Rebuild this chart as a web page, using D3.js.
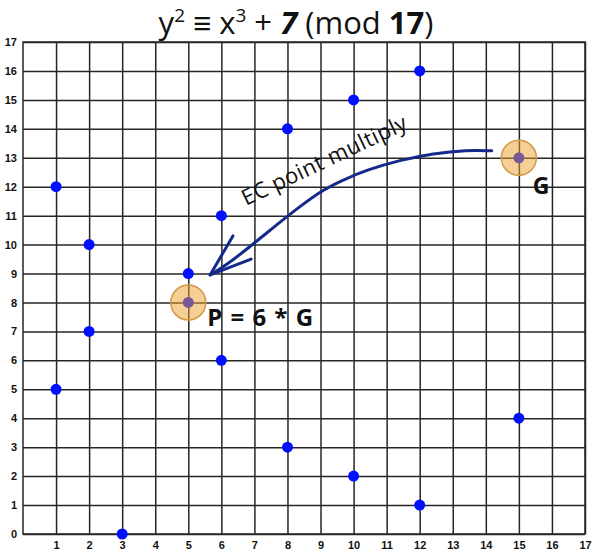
<!DOCTYPE html>
<html><head><meta charset="utf-8">
<script src="https://cdn.jsdelivr.net/npm/d3@7"></script>
<style>body{margin:0;background:#fff}svg{display:block}</style>
</head><body>
<svg id="c" width="594" height="554"></svg>
<script>
// Data
const xTicks = d3.range(1, 18);
const yTicks = d3.range(0, 18);
const pointsX = [1, 1, 2, 2, 3, 5, 5, 6, 6, 8, 8, 10, 10, 12, 12, 15, 15];
const pointsY = [5, 12, 7, 10, 0, 8, 9, 6, 11, 3, 14, 2, 15, 1, 16, 4, 13];
const highlightX = [15, 5];
const highlightY = [13, 8];
const labelText = ["G", "P = 6 * G"];
const labelX = [15.42, 5.57];
const labelY = [11.78, 7.22];
const arrowX = [14.18, 13.42, 12.41, 11.40, 10.40, 9.69, 9.08, 8.38, 7.67, 6.87, 6.16, 5.66];
const arrowY = [13.24, 13.27, 13.15, 12.92, 12.58, 12.24, 11.90, 11.32, 10.68, 9.93, 9.30, 8.95];
const headX = [6.35, 5.66, 6.9];
const headY = [10.3, 8.95, 9.5];
const arrowLabel = "EC point multiply";

const svg = d3.select("#c");
const x = d3.scaleLinear().domain([0, 17]).range([23, 585]);
const y = d3.scaleLinear().domain([0, 17]).range([534, 42]);

// grid via axes
const gx = svg.append("g").attr("transform", `translate(0,${y(0)})`)
  .call(d3.axisBottom(x).tickValues(xTicks).tickSize(-(y(0) - y(17))).tickPadding(7).tickFormat(d3.format("d")));
const gy = svg.append("g").attr("transform", `translate(${x(0)},0)`)
  .call(d3.axisLeft(y).tickValues(yTicks).tickSize(-(x(17) - x(0))).tickPadding(6).tickFormat(d3.format("d")));
[gx, gy].forEach(g => {
  g.select(".domain").remove();
  g.selectAll(".tick line").attr("stroke", "#262626").attr("stroke-width", 1.5);
  g.selectAll(".tick text").attr("fill", "#111").style("font-family", "'Liberation Sans', Arial, sans-serif")
    .style("font-size", "11px").style("font-weight", "bold");
});
// frame
svg.append("rect").attr("x", x(0)).attr("y", y(17)).attr("width", x(17) - x(0)).attr("height", y(0) - y(17))
  .attr("fill", "none").attr("stroke", "#262626").attr("stroke-width", 1.5);

// points
svg.append("g").selectAll("circle").data(pointsX.map((v, i) => [v, pointsY[i]])).join("circle")
  .attr("cx", d => x(d[0])).attr("cy", d => y(d[1])).attr("r", 5.5).attr("fill", "#0010ff");

// highlight circles (semi transparent over point)
svg.append("g").selectAll("circle").data(highlightX.map((v, i) => [v, highlightY[i]])).join("circle")
  .attr("cx", d => x(d[0])).attr("cy", d => y(d[1])).attr("r", 17.5)
  .attr("fill", "rgba(238,160,45,0.5)").attr("stroke", "#d39a48").attr("stroke-width", 1.5);

// labels
svg.append("g").selectAll("text").data(labelText).join("text")
  .attr("x", (d, i) => x(labelX[i])).attr("y", (d, i) => y(labelY[i]) + 1)
  .attr("fill", "#111").style("font-family", "'Open Sans', sans-serif")
  .style("font-size", (d, i) => i === 0 ? "23px" : "24px").style("font-weight", "bold")
  .style("word-spacing", "2px").text(d => d);

// arrow
const line = d3.line().x(d => x(d[0])).y(d => y(d[1])).curve(d3.curveBasis);
svg.append("path").attr("d", line(arrowX.map((v, i) => [v, arrowY[i]])))
  .attr("fill", "none").attr("stroke", "#132a8a").attr("stroke-width", 3).attr("stroke-linecap", "round");
svg.append("path").attr("d", d3.line().x(d => x(d[0])).y(d => y(d[1]))(headX.map((v, i) => [v, headY[i]])))
  .attr("fill", "none").attr("stroke", "#132a8a").attr("stroke-width", 3).attr("stroke-linecap", "round").attr("stroke-linejoin", "round");

svg.append("text").attr("transform", `translate(246,206) rotate(-25.5)`)
  .attr("fill", "#111").style("font-family", "'Open Sans', sans-serif").style("font-size", "22px")
  .style("letter-spacing", "0.4px").text(arrowLabel);

// title
const t = svg.append("text").attr("x", 296).attr("y", 34).attr("text-anchor", "middle")
  .attr("fill", "#111").style("font-family", "'Open Sans', sans-serif").style("font-size", "31px");
t.append("tspan").text("y");
t.append("tspan").attr("dy", -12).style("font-size", "19px").text("2");
t.append("tspan").attr("dy", 12).text(" ");
t.append("tspan").style("font-weight", "bold").text("≡");
t.append("tspan").text(" x");
t.append("tspan").attr("dy", -12).style("font-size", "19px").text("3");
t.append("tspan").attr("dy", 12).text(" + ");
t.append("tspan").style("font-weight", "bold").style("font-style", "italic").text("7");
t.append("tspan").text(" (mod ");
t.append("tspan").style("font-weight", "bold").text("17");
t.append("tspan").text(")");
</script>
</body></html>
